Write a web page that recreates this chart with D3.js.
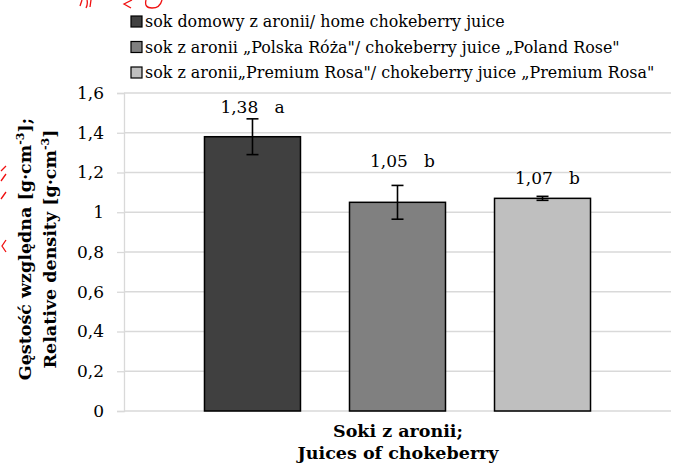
<!DOCTYPE html>
<html>
<head>
<meta charset="utf-8">
<script src="https://cdn.jsdelivr.net/npm/d3@7/dist/d3.min.js"></script>
<style>
  html, body { margin: 0; padding: 0; background: #fff; }
  svg { display: block; }
  text { font-family: "DejaVu Serif", "Liberation Serif", serif; fill: #000; }
</style>
</head>
<body>
<svg id="chart" width="674" height="466"></svg>
<script>
// Relative density of chokeberry juices
const seriesNames = [
  'sok domowy z aronii/ home chokeberry juice',
  'sok z aronii \u201EPolska Róża"/ chokeberry juice \u201EPoland Rose"',
  'sok z aronii\u201EPremium Rosa"/ chokeberry juice \u201EPremium Rosa"'
];
const densityValues = [1.38, 1.05, 1.07];
const densityErrors = [0.09, 0.085, 0.01];
const groupLetters = ['a', 'b', 'b'];
const barColors = ['#404040', '#808080', '#bfbfbf'];
const yTickValues = [0, 0.2, 0.4, 0.6, 0.8, 1, 1.2, 1.4, 1.6];

const svg = d3.select('#chart');
const plot = { left: 124, right: 671, top: 93, bottom: 411 };

const y = d3.scaleLinear().domain([0, 1.6]).range([plot.bottom, plot.top]);
const x = d3.scaleBand()
  .domain(d3.range(densityValues.length))
  .range([plot.left, plot.right])
  .paddingInner(0.338)
  .paddingOuter(0.555);

const commaFmt = v => d3.format('~g')(v).replace('.', ',');
const valueFmt = v => d3.format('.2f')(v).replace('.', ',');

// gridlines
svg.append('g')
  .selectAll('line')
  .data(yTickValues)
  .join('line')
  .attr('x1', plot.left).attr('x2', plot.right)
  .attr('y1', d => y(d)).attr('y2', d => y(d))
  .attr('stroke', '#d9d9d9').attr('stroke-width', 1.3);

// y axis
const yAxis = svg.append('g')
  .attr('transform', `translate(${plot.left},0)`)
  .call(d3.axisLeft(y).tickValues(yTickValues).tickFormat(commaFmt).tickSize(7).tickPadding(13));
yAxis.select('.domain').attr('stroke', '#d9d9d9').attr('stroke-width', 1.3);
yAxis.selectAll('.tick line').attr('stroke', '#d9d9d9').attr('stroke-width', 1.3);
yAxis.selectAll('.tick text')
  .style('font-family', '"DejaVu Serif", serif')
  .style('font-size', '17px')
  .attr('fill', '#000');

// bars
svg.append('g')
  .selectAll('rect')
  .data(densityValues)
  .join('rect')
  .attr('x', (d, i) => x(i))
  .attr('width', x.bandwidth())
  .attr('y', d => y(d))
  .attr('height', d => y(0) - y(d))
  .attr('fill', (d, i) => barColors[i])
  .attr('stroke', '#000')
  .attr('stroke-width', 1.5);

// error bars
const eb = svg.append('g').attr('stroke', '#000').attr('stroke-width', 1.6);
densityValues.forEach((v, i) => {
  const cx = x(i) + x.bandwidth() / 2;
  const hi = y(v + densityErrors[i]);
  const lo = y(v - densityErrors[i]);
  eb.append('line').attr('x1', cx).attr('x2', cx).attr('y1', hi).attr('y2', lo);
  eb.append('line').attr('x1', cx - 6).attr('x2', cx + 6).attr('y1', hi).attr('y2', hi);
  eb.append('line').attr('x1', cx - 6).attr('x2', cx + 6).attr('y1', lo).attr('y2', lo);
});

// value labels with significance letters
const labelLift = [6, 18, 12];
svg.append('g')
  .selectAll('text')
  .data(densityValues)
  .join('text')
  .attr('x', (d, i) => x(i) + x.bandwidth() / 2 + (i === 0 ? 0 : 5))
  .attr('y', (d, i) => y(d + densityErrors[i]) - labelLift[i])
  .attr('text-anchor', 'middle')
  .style('font-size', '17px')
  .text((d, i) => valueFmt(d) + '\u00a0\u00a0\u00a0' + groupLetters[i]);

// legend
const legend = svg.append('g');
seriesNames.forEach((name, i) => {
  const cy = 22 + i * 25.5;
  legend.append('rect')
    .attr('x', 131).attr('y', cy - 6)
    .attr('width', 11).attr('height', 11)
    .attr('fill', barColors[i])
    .attr('stroke', '#000').attr('stroke-width', 1.2);
  legend.append('text')
    .attr('x', 145).attr('y', cy + 5)
    .style('font-size', '15.9px')
    .text(name);
});

// axis titles
const xTitle = svg.append('text')
  .attr('text-anchor', 'middle')
  .style('font-weight', 'bold')
  .style('font-size', '17.5px');
xTitle.append('tspan').attr('x', 398).attr('y', 437).text('Soki z aronii;');
xTitle.append('tspan').attr('x', 398).attr('y', 459).text('Juices of chokeberry');

const yTitle = svg.append('text')
  .attr('transform', 'translate(0,249) rotate(-90)')
  .attr('text-anchor', 'middle')
  .style('font-weight', 'bold')
  .style('font-size', '17.5px');
const l1 = yTitle.append('tspan').attr('x', 0).attr('y', 31);
l1.append('tspan').text('Gęstość względna [g·cm');
l1.append('tspan').attr('dy', -7).style('font-size', '11px').text('-3');
l1.append('tspan').attr('dy', 7).text('];');
const l2 = yTitle.append('tspan').attr('x', 0).attr('y', 56);
l2.append('tspan').text('Relative density [g·cm');
l2.append('tspan').attr('dy', -7).style('font-size', '11px').text('-3');
l2.append('tspan').attr('dy', 7).text(']');

// red pen marks in the corner and on the left margin
const pen = svg.append('g').attr('fill', 'none').attr('stroke', '#f01010').attr('stroke-width', 1.3);
pen.append('path').attr('d', 'M80,6 L82,0 M86,8 Q88,4 87,0 M90,7 L91,0');
pen.append('path').attr('d', 'M132,0 L124,4 L131,8');
pen.append('path').attr('d', 'M146,0 Q144,8 152,8 Q160,8 162,0');
pen.append('path').attr('d', 'M6,166 L1,171 M6,174 L1,181 M6,192 L1,199 M6,240 L2,246 L6,252');
</script>
</body>
</html>
